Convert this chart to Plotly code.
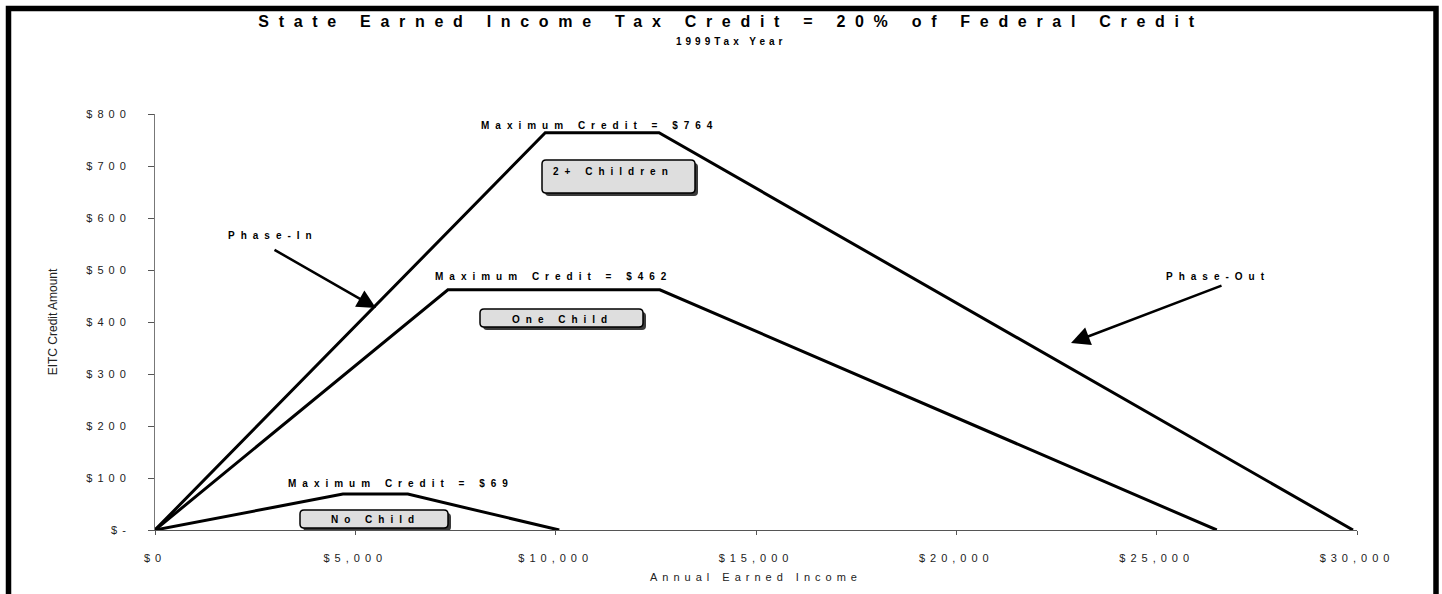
import plotly.graph_objects as go

# State EITC (20% of federal) by family type, 1999 tax year
income_two_plus = [0, 9740, 12580, 29900]
credit_two_plus = [0, 764, 764, 0]
income_one_child = [0, 7310, 12600, 26500]
credit_one_child = [0, 462, 462, 0]
income_no_child = [0, 4690, 6310, 10090]
credit_no_child = [0, 69, 69, 0]

family_labels = ["2+ Children", "One Child", "No Child"]

x_ticks = [0, 5000, 10000, 15000, 20000, 25000, 30000]
x_tick_labels = ["$0", "$5,000", "$10,000", "$15,000", "$20,000", "$25,000", "$30,000"]
y_ticks = [0, 100, 200, 300, 400, 500, 600, 700, 800]
y_tick_labels = ["$-", "$100", "$200", "$300", "$400", "$500", "$600", "$700", "$800"]

FONT = "Arial, Liberation Sans, sans-serif"
WIDTH, HEIGHT = 1442, 594
ML, MR, MT, MB = 155, 85, 114, 64
PW, PH = WIDTH - ML - MR, HEIGHT - MT - MB
XMAX, YMAX = 30000, 800


def dx(px):
    """page pixel column -> income value"""
    return (px - ML) / PW * XMAX


def dy(py):
    """page pixel row -> credit value"""
    return (HEIGHT - MB - py) / PH * YMAX


def xp(px):
    return (px - ML) / PW


def yp(py):
    return (HEIGHT - MB - py) / PH


fig = go.Figure()
for xs, ys in [(income_two_plus, credit_two_plus),
               (income_one_child, credit_one_child),
               (income_no_child, credit_no_child)]:
    fig.add_trace(go.Scatter(x=xs, y=ys, mode="lines",
                             line=dict(color="black", width=3),
                             showlegend=False, hoverinfo="skip"))


def rounded_box(x0, y0, x1, y1, r=4):
    pts = [
        f"M {dx(x0 + r)},{dy(y0)}",
        f"L {dx(x1 - r)},{dy(y0)}",
        f"Q {dx(x1)},{dy(y0)} {dx(x1)},{dy(y0 + r)}",
        f"L {dx(x1)},{dy(y1 - r)}",
        f"Q {dx(x1)},{dy(y1)} {dx(x1 - r)},{dy(y1)}",
        f"L {dx(x0 + r)},{dy(y1)}",
        f"Q {dx(x0)},{dy(y1)} {dx(x0)},{dy(y1 - r)}",
        f"L {dx(x0)},{dy(y0 + r)}",
        f"Q {dx(x0)},{dy(y0)} {dx(x0 + r)},{dy(y0)}",
        "Z",
    ]
    return " ".join(pts)


shapes = []
# family-type label boxes (shadow + box), in page pixels
boxes = [(542, 160, 695, 193), (480, 309, 643, 327), (300, 510, 448, 528)]
for (x0, y0, x1, y1) in boxes:
    shapes.append(dict(type="path", path=rounded_box(x0 + 3, y0 + 3, x1 + 3, y1 + 3),
                       xref="x", yref="y", fillcolor="#3a3a3a", line=dict(width=0)))
    shapes.append(dict(type="path", path=rounded_box(x0, y0, x1, y1),
                       xref="x", yref="y", fillcolor="#dedede",
                       line=dict(color="black", width=1.5)))

# outer frame
shapes.append(dict(type="rect", xref="paper", yref="paper",
                   x0=xp(8.5), x1=xp(1436), y0=yp(610), y1=yp(8.5),
                   line=dict(color="black", width=5.5), fillcolor="rgba(0,0,0,0)"))

bold10 = dict(family=FONT, size=10, color="black", weight="bold")
annotations = [
    # subtitle (index 0)
    dict(text="1999Tax Year", xref="paper", yref="paper", x=xp(731), y=yp(41),
         showarrow=False, font=dict(family=FONT, size=10, color="black", weight="bold"),
         xanchor="center", yanchor="middle"),
]

max_points = [(income_two_plus, credit_two_plus, 600, 125),
              (income_one_child, credit_one_child, 554, 276),
              (income_no_child, credit_no_child, 401, 483)]
for xs, ys, lx, ly in max_points:
    annotations.append(dict(text=f"Maximum Credit = ${max(ys)}", x=dx(lx), y=dy(ly),
                            showarrow=False, font=bold10, xanchor="center", yanchor="middle"))

label_pos = [(613, 171), (562, 319), (375, 519)]
for name, (lx, ly) in zip(family_labels, label_pos):
    annotations.append(dict(text=name, x=dx(lx), y=dy(ly), showarrow=False,
                            font=bold10, xanchor="center", yanchor="middle"))

annotations += [
    dict(text="Phase-In", x=dx(273), y=dy(235), showarrow=False, font=bold10,
         xanchor="center", yanchor="middle"),
    dict(text="Phase-Out", x=dx(1218), y=dy(276), showarrow=False, font=bold10,
         xanchor="center", yanchor="middle"),
    dict(text="", x=dx(376), y=dy(308), ax=dx(273), ay=dy(249), axref="x", ayref="y",
         showarrow=True, arrowhead=2, arrowsize=1.5, arrowwidth=2.5, arrowcolor="black"),
    dict(text="", x=dx(1071), y=dy(343), ax=dx(1223), ay=dy(285), axref="x", ayref="y",
         showarrow=True, arrowhead=2, arrowsize=1.5, arrowwidth=2.5, arrowcolor="black"),
]

fig.update_layout(
    width=WIDTH, height=HEIGHT,
    margin=dict(l=ML, r=MR, t=MT, b=MB),
    paper_bgcolor="white", plot_bgcolor="white",
    font=dict(family=FONT, color="black"),
    title=dict(text="State Earned Income Tax Credit = 20% of Federal Credit",
               font=dict(family=FONT, size=16, color="black", weight="bold"),
               x=(731) / WIDTH, xanchor="center", xref="container",
               y=1 - 21 / HEIGHT, yanchor="middle", yref="container"),
    xaxis=dict(range=[0, XMAX], tickvals=x_ticks, ticktext=x_tick_labels,
               showgrid=False, zeroline=False, showline=True, linecolor="#555",
               linewidth=1, ticks="outside", ticklen=4, tickcolor="#555",
               tickfont=dict(family=FONT, size=11, color="#222"),
               ticklabelstandoff=14,
               title=dict(text="Annual Earned Income", standoff=10,
                          font=dict(family=FONT, size=11, color="#222"))),
    yaxis=dict(range=[0, YMAX], tickvals=y_ticks, ticktext=y_tick_labels,
               showgrid=False, zeroline=False, showline=True, linecolor="#777",
               linewidth=1, ticks="outside", ticklen=6, tickcolor="#555",
               tickfont=dict(family=FONT, size=11, color="#222"),
               ticklabelstandoff=15,
               title=dict(text="EITC Credit Amount", standoff=46,
                          font=dict(family=FONT, size=12, color="#222"))),
    shapes=shapes,
    annotations=annotations,
)

spacing_css = (
    ".gtitle{letter-spacing:9.7px}"
    ".xtick text,.ytick text{letter-spacing:5px}"
    ".xtitle{letter-spacing:5px}"
    ".annotation-text{letter-spacing:6px}"
    ".annotation[data-index='0'] .annotation-text{letter-spacing:4px}"
)
post = ("var s=document.createElement('style');s.textContent=\"" + spacing_css +
        "\";document.head.appendChild(s);")

fig.write_html("out.html", post_script=post)
